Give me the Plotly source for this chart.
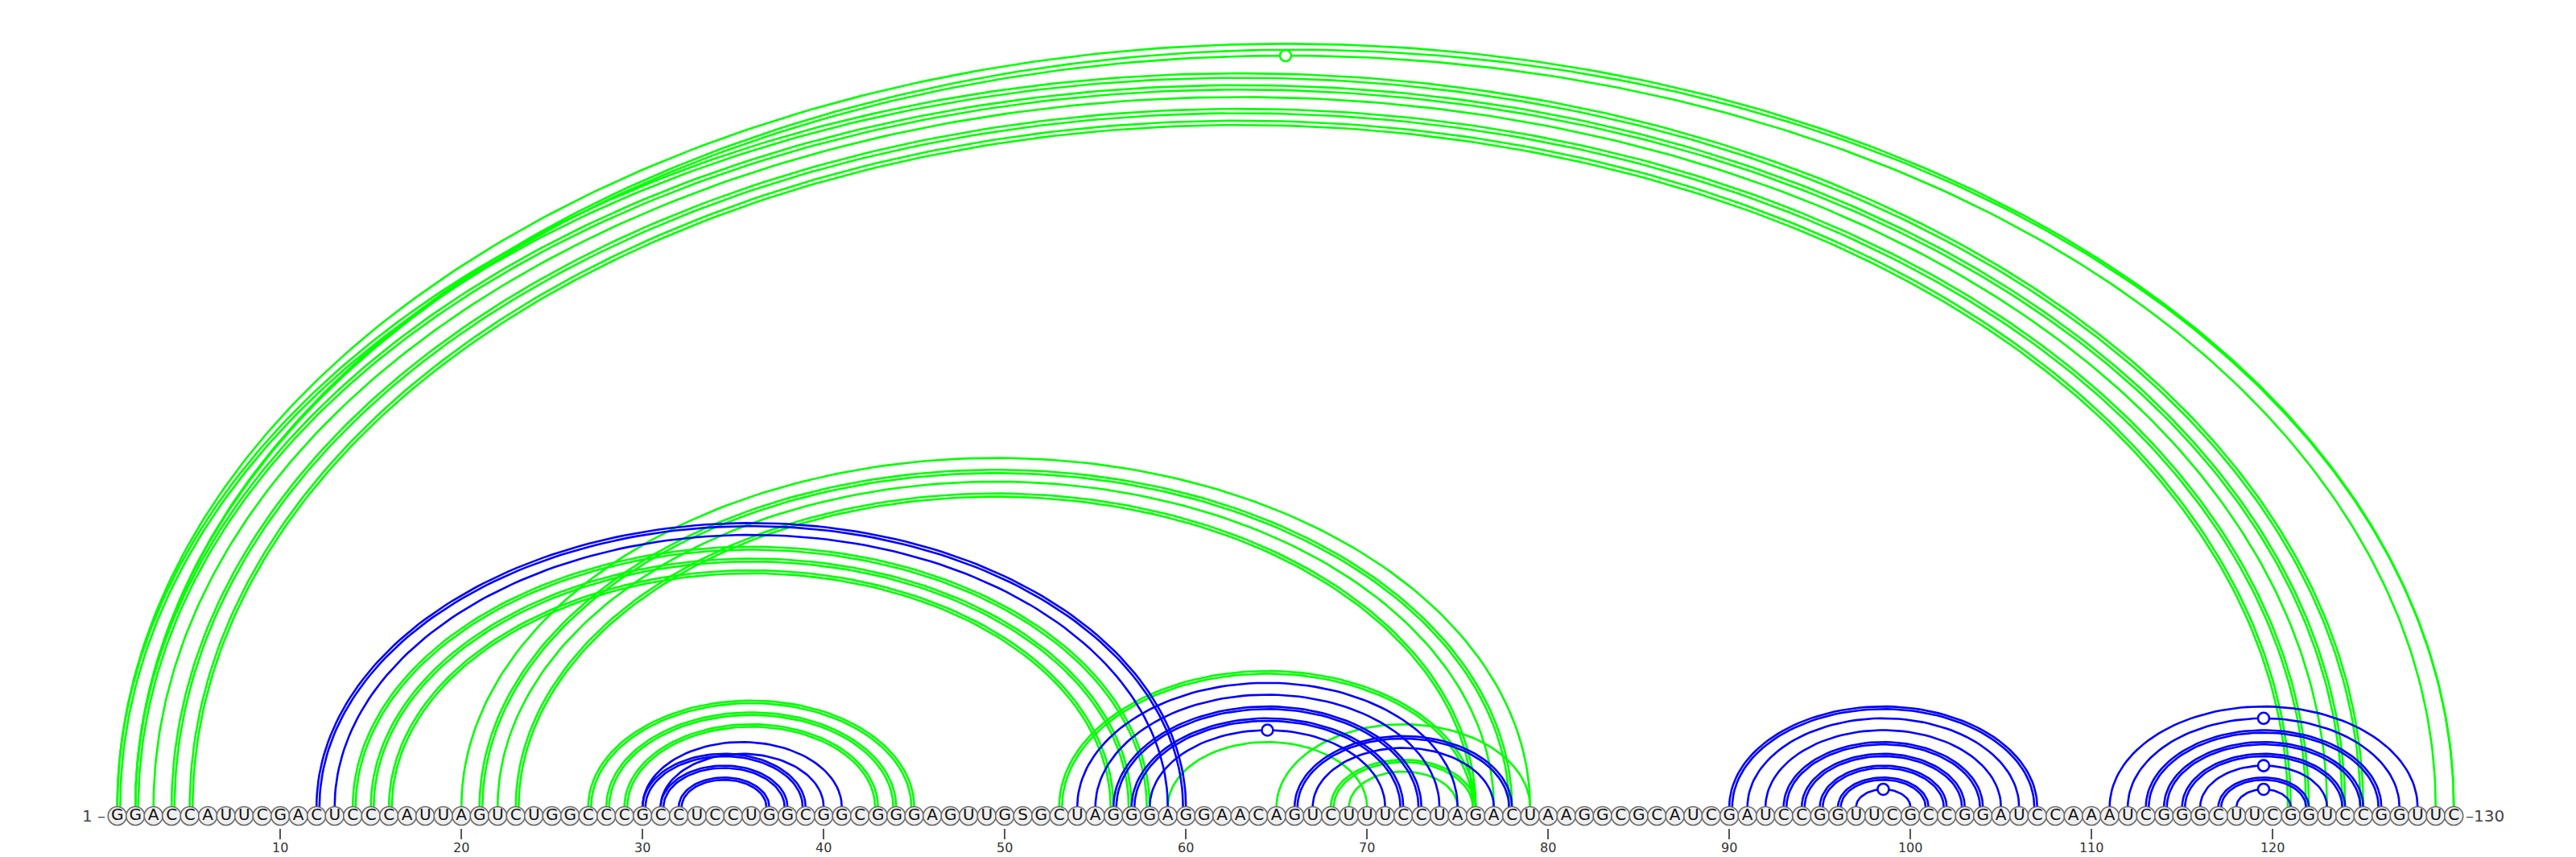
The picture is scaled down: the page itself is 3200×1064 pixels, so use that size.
import numpy as np
import plotly.graph_objects as go

# ---------------- data ----------------
sequence_chunks = [
    "GGACCAUUCG", "ACUCCCAUUA", "GUCUGGCCCG", "CCUCCUGGCG", "GCGGGAGUUG",
    "SGCUAGGGAG", "GAACAGUCUU", "UCCUAGACUA", "AGGCGCAUCG", "AUCCGGUUCG",
    "CCGGAUCCAA", "AUCGGGCUUC", "GGUCCGGUUC",
]
sequence = "".join(sequence_chunks)
positions = list(range(1, len(sequence) + 1))

tick_values = [10, 20, 30, 40, 50, 60, 70, 80, 90, 100, 110, 120]

# base pairs (i, j) and how many structures contain them (1 = single line, 2 = double line)
green_pairs = [
    (1, 130), (2, 130), (2, 129), (1, 125), (2, 124), (3, 123), (4, 122), (5, 121),
    (14, 58), (15, 57), (16, 56),
    (20, 79), (21, 78), (22, 77), (23, 76),
    (27, 45), (28, 44), (29, 43),
    (53, 76), (59, 70), (65, 79), (68, 76), (69, 75),
]
green_mult = [1, 1, 1, 2, 2, 1, 2, 2,
              2, 2, 2,
              1, 2, 1, 2,
              2, 2, 2,
              2, 1, 1, 2, 1]

blue_pairs = [
    (12, 60), (13, 59),
    (30, 41), (30, 39), (31, 40), (31, 38), (32, 37),
    (54, 75), (55, 74), (56, 73), (57, 72), (58, 71),
    (66, 78), (67, 77),
    (90, 107), (91, 106), (92, 105), (93, 104), (94, 103), (95, 102), (96, 101), (97, 100),
    (111, 128), (112, 127), (113, 126), (114, 125), (115, 124), (116, 123), (117, 122), (118, 121),
]
blue_mult = [2, 1,
             1, 2, 1, 2, 2,
             1, 1, 2, 2, 1,
             2, 1,
             2, 1, 1, 2, 2, 2, 2, 1,
             1, 1, 2, 2, 2, 1, 2, 1]

# ---------------- style ----------------
GREEN = "#00ff00"
BLUE = "#0000ff"
PX_PER_NT = 22.5
ARC_K = 0.653 * PX_PER_NT      # arc height (px) per nt of half-span
FIRST_PX = 145.7               # pixel x of position 1
CANVAS_W, CANVAS_H = 3200, 1064
BOTTOM_MARGIN = 36
LINE_W = 2.6


def arc_coords(i, j, inner=False):
    c = (i + j) / 2.0
    hs = (j - i) / 2.0
    n = 40 + int(hs * 4)
    t = np.linspace(0, np.pi, n)
    rx = hs
    ry = ARC_K * hs
    if inner:
        rx = hs - 0.16
        ry = ry - (2.8 + 0.003 * ry)
    return list(c + rx * np.cos(t)), list(ry * np.sin(t))


def build(pairs, mult):
    xs, ys = [], []
    for (i, j), m in zip(pairs, mult):
        x, y = arc_coords(i, j)
        xs += x + [None]
        ys += y + [None]
        if m > 1:
            x, y = arc_coords(i, j, inner=True)
            xs += x + [None]
            ys += y + [None]
    return xs, ys


def wobble_points(pairs):
    xs, ys = [], []
    for i, j in pairs:
        a, b = sequence[i - 1], sequence[j - 1]
        if {a, b} == {"G", "U"}:
            xs.append((i + j) / 2.0)
            ys.append(ARC_K * (j - i) / 2.0)
    return xs, ys


fig = go.Figure()

for pairs, mult, col in [(green_pairs, green_mult, GREEN), (blue_pairs, blue_mult, BLUE)]:
    xs, ys = build(pairs, mult)
    fig.add_trace(go.Scatter(x=xs, y=ys, mode="lines",
                             line=dict(color=col, width=LINE_W),
                             hoverinfo="skip", cliponaxis=False))
    wx, wy = wobble_points(pairs)
    fig.add_trace(go.Scatter(x=wx, y=wy, mode="markers",
                             marker=dict(symbol="circle", size=14, color="white",
                                         line=dict(color=col, width=2.6)),
                             hoverinfo="skip", cliponaxis=False))

# nucleotides
fig.add_trace(go.Scatter(
    x=positions, y=[-11] * len(positions), mode="markers+text",
    text=list(sequence), textposition="middle center",
    textfont=dict(family="DejaVu Sans", size=20, color="#111"),
    marker=dict(symbol="circle", size=23, color="#efefef",
                line=dict(color="#6a6a6a", width=1.6)),
    hoverinfo="skip", cliponaxis=False))

x0 = 1 - FIRST_PX / PX_PER_NT
x1 = x0 + CANVAS_W / PX_PER_NT
plot_h = CANVAS_H - BOTTOM_MARGIN

fig.add_annotation(x=positions[0], y=-11, xref="x", yref="y", text="1 \u2013",
                   showarrow=False, xanchor="right", xshift=-13,
                   font=dict(family="DejaVu Sans", size=20, color="#444"))
fig.add_annotation(x=positions[-1], y=-11, xref="x", yref="y", text="\u2013130",
                   showarrow=False, xanchor="left", xshift=13,
                   font=dict(family="DejaVu Sans", size=20, color="#444"))

fig.update_layout(
    width=CANVAS_W, height=CANVAS_H,
    margin=dict(l=0, r=0, t=0, b=BOTTOM_MARGIN, pad=0),
    plot_bgcolor="white", paper_bgcolor="white",
    showlegend=False,
    xaxis=dict(range=[x0, x1], tickmode="array", tickvals=tick_values,
               ticks="outside", ticklen=13, tickwidth=1.5, tickcolor="#555",
               tickfont=dict(family="DejaVu Sans", size=16, color="#333"),
               showgrid=False, zeroline=False, showline=False, automargin=False,
               fixedrange=True),
    yaxis=dict(range=[-26, plot_h - 26], visible=False, showgrid=False,
               zeroline=False, fixedrange=True, automargin=False),
)

try:
    fig.update_xaxes(ticklabelstandoff=-3)
except Exception:
    fig.update_layout(margin=dict(b=BOTTOM_MARGIN + 3))
    fig.update_yaxes(range=[-26, plot_h - 29])

fig.write_html("out.html", config={"displayModeBar": False},
               post_script="document.body.style.margin='0';document.body.style.overflow='hidden';")
